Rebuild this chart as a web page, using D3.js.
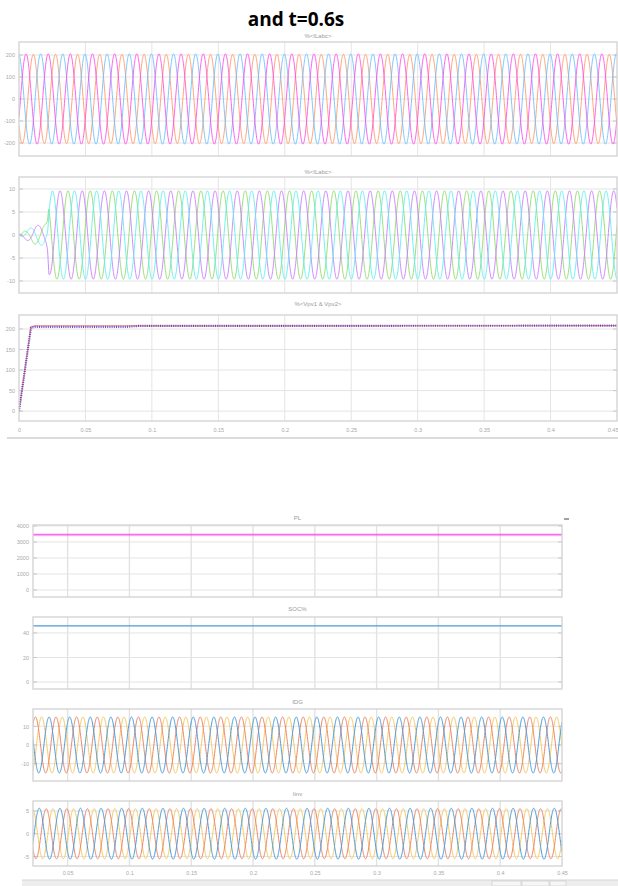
<!DOCTYPE html>
<html><head><meta charset="utf-8">
<script src="https://cdn.jsdelivr.net/npm/d3@7"></script>
<style>body{margin:0;background:#fff;} svg{display:block;font-family:"Liberation Sans",Arial,sans-serif;}</style>
</head><body><svg id="c" width="618" height="886"></svg>
<script>
// ---------------- data ----------------
const FREQ_HZ = 60;
const topTimeTicks = [0, 0.05, 0.1, 0.15, 0.2, 0.25, 0.3, 0.35, 0.4, 0.45];
const topTimeLabels = ["0", "0.05", "0.1", "0.15", "0.2", "0.25", "0.3", "0.35", "0.4", "0.45"];
const bottomTimeTicks = [0.05, 0.1, 0.15, 0.2, 0.25, 0.3, 0.35, 0.4, 0.45];
const bottomTimeLabels = ["0.05", "0.1", "0.15", "0.2", "0.25", "0.3", "0.35", "0.4", "0.45"];

// Panel 1: %<ILabc> three phases (magenta, orange, blue)
const ilabc1Ticks = [-200, -100, 0, 100, 200];
const ilabc1Amp = [205, 203, 205];
const ilabc1PeakTimes = [0.0053, 0.0108, 0.0163];

// Panel 2: %<ILabc> three phases (violet, green, cyan) with start-up envelope
const ilabc2Ticks = [-10, -5, 0, 5, 10];
const ilabc2PeakTimes = [0.0309, 0.0369, 0.0251];
const ilabc2EnvT = [0, 0.005, 0.012, 0.0205, 0.0215, 0.0225, 0.025, 0.45];
const ilabc2EnvA = [0, 1, 2, 2.4, 3.5, 8.5, 9.6, 9.6];

// Panel 3: %<Vpv1 & Vpv2>
const vpvTicks = [0, 50, 100, 150, 200];
const vpv1T = [0, 0.009, 0.012, 0.09, 0.45];
const vpv1V = [0, 205, 207.5, 207.5, 208];
const vpv2T = [0, 0.009, 0.012, 0.08, 0.09, 0.45];
const vpv2V = [0, 203, 205, 205, 207.5, 208];

// Panel 4: PL
const plTicks = [0, 1000, 2000, 3000, 4000];
const plT = [0.022, 0.45];
const plV = [3450, 3450];

// Panel 5: SOC%
const socTicks = [0, 20, 40];
const socT = [0.022, 0.45];
const socV = [45.7, 45.7];

// Panel 6: IDG (blue, red, yellow)
const idgTicks = [-10, 0, 10];
const idgAmp = [15, 15, 15];
const idgPeakTimes = [0.035, 0.0406, 0.029];

// Panel 7: Iinv (blue, red, yellow)
const iinvTicks = [-5, 0, 5];
const iinvAmp = [5.6, 5.5, 5.5];
const iinvPeakTimes = [0.0271, 0.0327, 0.0382];

// ---------------- drawing ----------------
const svg = d3.select("#c");
const GRID = "#e4e4e4", FRAME = "#d2d2d2", TXT = "#a8a8a8";
let clipId = 0;

svg.append("text").attr("x", 296).attr("y", 26).attr("text-anchor", "middle")
  .attr("font-family", "'Open Sans','Liberation Sans',sans-serif")
  .attr("font-weight", "bold").attr("font-size", 19).attr("fill", "#000").text("and t=0.6s");

function panel(o) {
  const x = d3.scaleLinear().domain(o.xDomain).range([o.x0, o.x1]);
  const y = d3.scaleLinear().domain(o.yDomain).range([o.y1, o.y0]);
  const g = svg.append("g");
  g.append("text").attr("x", (o.x0 + o.x1) / 2).attr("y", o.titleY).attr("text-anchor", "middle")
    .attr("font-size", 6).attr("fill", "#9a9a9a").text(o.title);
  const grid = g.append("g");
  grid.selectAll("line.v").data(o.xTicks.filter(t => x(t) > o.x0 + 1 && x(t) < o.x1 - 1)).join("line")
    .attr("x1", d => x(d)).attr("x2", d => x(d)).attr("y1", o.y0).attr("y2", o.y1)
    .attr("stroke", o.vGrid || GRID).attr("stroke-width", o.vGridW || 1);
  grid.selectAll("line.h").data(o.yTicks).join("line")
    .attr("x1", o.x0).attr("x2", o.x1).attr("y1", d => y(d)).attr("y2", d => y(d))
    .attr("stroke", GRID).attr("stroke-width", 1);
  const ya = d3.axisLeft(y).tickValues(o.yTicks).tickFormat(d => String(d)).tickSize(0).tickPadding(4);
  const yg = g.append("g").attr("transform", `translate(${o.x0},0)`).call(ya);
  yg.select(".domain").remove();
  yg.selectAll("text").attr("font-size", 5.5).attr("fill", TXT).attr("font-family", "'Liberation Sans',Arial,sans-serif");
  g.selectAll("line.tl").data(o.yTicks).join("line")
    .attr("x1", o.x0).attr("x2", o.x0 + 4).attr("y1", d => y(d)).attr("y2", d => y(d))
    .attr("stroke", "#c8c8c8");
  g.selectAll("line.tr").data(o.yTicks).join("line")
    .attr("x1", o.x1 - 4).attr("x2", o.x1).attr("y1", d => y(d)).attr("y2", d => y(d))
    .attr("stroke", "#c8c8c8");
  if (o.xLabels) {
    const xa = d3.axisBottom(x).tickValues(o.xLabelTicks).tickFormat((d, i) => o.xLabels[i]).tickSize(0).tickPadding(0);
    const xg = g.append("g").attr("transform", `translate(0,${o.xLabelY})`).call(xa);
    xg.select(".domain").remove();
    xg.selectAll("text").attr("font-size", 5.5).attr("fill", TXT).attr("font-family", "'Liberation Sans',Arial,sans-serif");
    if (o.lastLabelEnd) {
      xg.selectAll("text").filter((d, i, n) => i === n.length - 1).attr("text-anchor", "end").attr("dx", 1);
    }
  }
  const id = "clip" + (clipId++);
  svg.append("clipPath").attr("id", id).append("rect")
    .attr("x", o.x0).attr("y", o.y0).attr("width", o.x1 - o.x0).attr("height", o.y1 - o.y0);
  const plot = g.append("g").attr("clip-path", `url(#${id})`);
  g.append("rect").attr("x", o.x0).attr("y", o.y0).attr("width", o.x1 - o.x0).attr("height", o.y1 - o.y0)
    .attr("fill", "none").attr("stroke", FRAME).attr("stroke-width", 1.3);
  return { x, y, plot };
}

function sine(amp, peakT, t0, t1, env) {
  const step = 0.00015;
  return d3.range(t0, t1 + step, step).map(t => {
    const a = env ? env(t) : amp;
    return [t, a * Math.cos(2 * Math.PI * FREQ_HZ * (t - peakT))];
  });
}
function drawLine(p, pts, color, w, dash, op) {
  const line = d3.line().x(d => p.x(d[0])).y(d => p.y(d[1]));
  p.plot.append("path").datum(pts).attr("d", line).attr("fill", "none")
    .attr("stroke", color).attr("stroke-width", w || 1).attr("stroke-dasharray", dash || null)
    .attr("stroke-opacity", op == null ? 1 : op).attr("stroke-linejoin", "round");
}

// Panel 1
const p1 = panel({ x0: 19, x1: 617, y0: 42, y1: 156, xDomain: [0, 0.45], yDomain: [-259, 259],
  xTicks: topTimeTicks, yTicks: ilabc1Ticks, title: "%<ILabc>", titleY: 38 });
const c1 = ["#ff4fe8", "#ff9a6a", "#6cc0ff"];
[1, 2, 0].forEach(i => drawLine(p1, sine(ilabc1Amp[i], ilabc1PeakTimes[i], 0, 0.45), c1[i], 0.9));

// Panel 2
const env2 = d3.scaleLinear().domain(ilabc2EnvT).range(ilabc2EnvA).clamp(true);
const p2 = panel({ x0: 19, x1: 617, y0: 177, y1: 293, xDomain: [0, 0.45], yDomain: [-12.6, 12.6],
  xTicks: topTimeTicks, yTicks: ilabc2Ticks, title: "%<ILabc>", titleY: 174 });
const c2 = ["#c77cff", "#8ddb6a", "#5eeef0"];
[1, 0, 2].forEach(i => drawLine(p2, sine(0, ilabc2PeakTimes[i], 0, 0.45, env2), c2[i], 0.9));

// Panel 3
const p3 = panel({ x0: 19, x1: 617, y0: 315, y1: 421, xDomain: [0, 0.45], yDomain: [-24, 234],
  xTicks: topTimeTicks, yTicks: vpvTicks, title: "%<Vpv1 & Vpv2>", titleY: 306,
  xLabels: topTimeLabels, xLabelTicks: topTimeTicks, xLabelY: 428, lastLabelEnd: true });
drawLine(p3, d3.zip(vpv1T, vpv1V), "#ff8a70", 1.2);
drawLine(p3, d3.zip(vpv2T, vpv2V), "#4b3fd8", 2.2, "1,1.2", 0.9);
svg.append("line").attr("x1", 7).attr("x2", 618).attr("y1", 438).attr("y2", 438)
  .attr("stroke", "#cfcfcf").attr("stroke-width", 1.5);

// Bottom group
const bx0 = 33, bx1 = 562, bDom = [0.022, 0.45];
const p4 = panel({ x0: bx0, x1: bx1, y0: 525, y1: 597, xDomain: bDom, yDomain: [-440, 4060],
  xTicks: bottomTimeTicks, yTicks: plTicks, title: "PL", titleY: 520, vGrid: "#e2e2e2", vGridW: 1.4 });
drawLine(p4, d3.zip(plT, plV), "#ff66ee", 3, null, 0.35);
drawLine(p4, d3.zip(plT, plV), "#f24fe0", 1);
svg.append("line").attr("x1", 564).attr("x2", 569).attr("y1", 519).attr("y2", 519)
  .attr("stroke", "#444").attr("stroke-width", 1);

const p5 = panel({ x0: bx0, x1: bx1, y0: 617, y1: 689, xDomain: bDom, yDomain: [-5.7, 53],
  xTicks: bottomTimeTicks, yTicks: socTicks, title: "SOC%", titleY: 611, vGrid: "#e2e2e2", vGridW: 1.4 });
drawLine(p5, d3.zip(socT, socV), "#4d9bd6", 1.3);

const c6 = ["#4a9ad8", "#ea8466", "#f6c862"];
const p6 = panel({ x0: bx0, x1: bx1, y0: 709, y1: 781, xDomain: bDom, yDomain: [-19.3, 19.3],
  xTicks: bottomTimeTicks, yTicks: idgTicks, title: "IDG", titleY: 704, vGrid: "#e2e2e2", vGridW: 1.4 });
[2, 1, 0].forEach(i => drawLine(p6, sine(idgAmp[i], idgPeakTimes[i], 0.02, 0.45), c6[i], 1));

const p7 = panel({ x0: bx0, x1: bx1, y0: 801, y1: 866, xDomain: bDom, yDomain: [-7.1, 7.2],
  xTicks: bottomTimeTicks, yTicks: iinvTicks, title: "Iinv", titleY: 796, vGrid: "#e2e2e2", vGridW: 1.4,
  xLabels: bottomTimeLabels, xLabelTicks: bottomTimeTicks, xLabelY: 871 });
[2, 1, 0].forEach(i => drawLine(p7, sine(iinvAmp[i], iinvPeakTimes[i], 0.02, 0.45), c6[i], 1));

// status bar
svg.append("rect").attr("x", 22).attr("y", 880).attr("width", 596).attr("height", 6).attr("fill", "#eeeeee");
svg.append("line").attr("x1", 22).attr("x2", 618).attr("y1", 880).attr("y2", 880).attr("stroke", "#d4d4d4");
[[492, 522], [522, 550], [550, 567]].forEach(b => svg.append("rect").attr("x", b[0]).attr("y", 881)
  .attr("width", b[1] - b[0] - 1).attr("height", 5).attr("fill", "#f6f6f6").attr("stroke", "#c8c8c8").attr("stroke-width", 0.6));
</script></body></html>
